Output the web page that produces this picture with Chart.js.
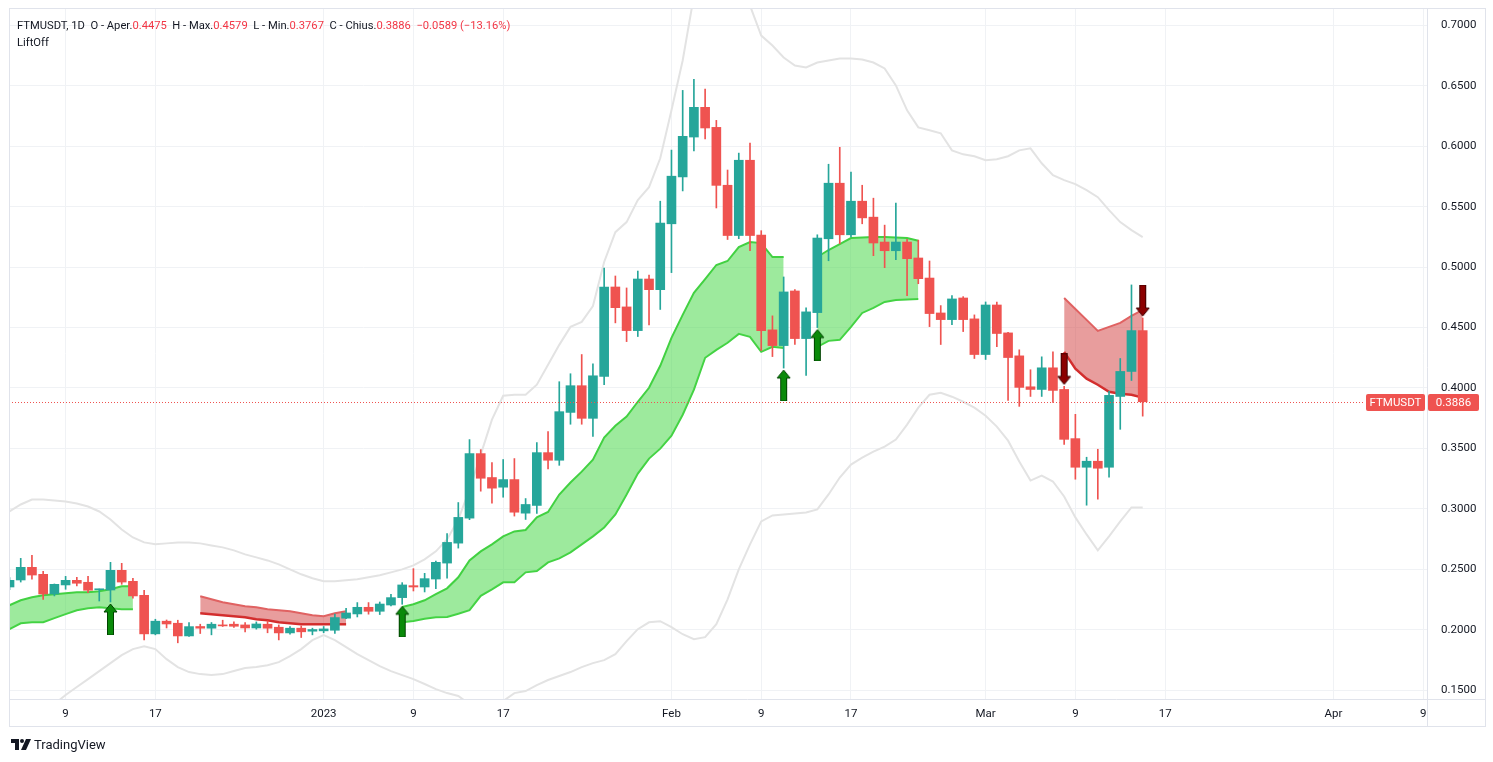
<!DOCTYPE html>
<html><head><meta charset="utf-8">
<script src="https://cdn.jsdelivr.net/npm/chart.js@4.4.0/dist/chart.umd.min.js"></script>
<style>
html,body{margin:0;padding:0;background:#fff;width:1493px;height:762px;overflow:hidden;}
#wrap{position:relative;width:1493px;height:762px;font-family:Roboto,'Liberation Sans',sans-serif;}
#c{position:absolute;left:0;top:0;}
#hdr{position:absolute;left:17px;top:17px;font-size:11.2px;color:#131722;line-height:17px;white-space:pre;}
#hdr .r{color:#f23645}
#logo{position:absolute;left:11px;top:737px;font-size:13px;color:#131722;display:flex;align-items:center;gap:3px;}
</style></head><body>
<div id="wrap">
<canvas id="c" width="1493" height="762"></canvas>
<div id="hdr"></div>
<div id="logo"><svg width="20" height="11" viewBox="0 0 20 11"><path d="M0 0h8v11H4V4H0z" fill="#131722"/><circle cx="11" cy="2" r="2" fill="#131722"/><path d="M15 0h5l-5 11h-5z" fill="#131722"/></svg><span>TradingView</span></div>
</div>
<script>
// ---- data (day 0 = 4 Dec 2022, one candle per day) ----
const symbol = 'FTMUSDT';
const tickDays = [5, 13, 28, 36, 44, 59, 67, 75, 87, 95, 103, 118, 126];
const tickLabels = ['9', '17', '2023', '9', '17', 'Feb', '9', '17', 'Mar', '9', '17', 'Apr', '9'];
const priceTicks = [0.15, 0.20, 0.25, 0.30, 0.35, 0.40, 0.45, 0.50, 0.55, 0.60, 0.65, 0.70];

const opens = [.2353,.2411,.2516,.2458,.2295,.2370,.2408,.2392,.2330,.2328,
.2491,.2400,.2284,.1965,.2070,.2053,.1948,.2026,.2012,.2039,
.2045,.2039,.2014,.2045,.2020,.1973,.2012,.1987,.1990,.1995,
.2095,.2130,.2185,.2152,.2204,.2265,.2364,.2353,.2419,.2551,
.2716,.2923,.3457,.3259,.3179,.3242,.2964,.3028,.3465,.3402,
.3798,.4019,.3749,.4096,.4836,.4671,.4475,.4902,.4814,.5359,
.5747,.6077,.6323,.6157,.5678,.5262,.5885,.5266,.4481,.4351,
.4803,.4409,.4624,.5235,.5695,.5268,.5546,.5414,.5208,.5136,
.5208,.5076,.4910,.4621,.4566,.4745,.4572,.4277,.4687,.4456,
.4266,.4010,.3988,.4167,.3988,.3581,.3344,.3394,.3344,.3930,
.4137,.4475];
const highs = [.2430,.2590,.2615,.2483,.2378,.2441,.2433,.2441,.2336,.2557,
.2549,.2425,.2326,.2086,.2080,.2078,.2059,.2045,.2059,.2078,
.2064,.2059,.2064,.2072,.2039,.2026,.2031,.2012,.2026,.2128,
.2177,.2224,.2224,.2229,.2293,.2389,.2505,.2466,.2568,.2796,
.3052,.3573,.3490,.3383,.3408,.3416,.3085,.3548,.3639,.4052,
.4118,.4277,.4200,.4993,.4927,.4828,.4968,.4935,.5546,.5969,
.6463,.6554,.6474,.6215,.5804,.5944,.6027,.5302,.4597,.4919,
.4815,.4663,.5268,.5852,.5992,.5787,.5678,.5571,.5348,.5530,
.5231,.5224,.5051,.4682,.4764,.4756,.4605,.4712,.4712,.4460,
.4316,.4151,.4258,.4299,.4013,.3782,.3427,.3493,.3972,.4244,
.4853,.4579];
const lows = [.2330,.2394,.2417,.2251,.2279,.2334,.2362,.2307,.2237,.2229,
.2375,.2260,.1915,.1957,.2014,.1891,.1943,.1968,.1957,.2026,
.2018,.1982,.2004,.1974,.1915,.1962,.1935,.1957,.1974,.1968,
.2090,.2105,.2128,.2125,.2196,.2210,.2320,.2312,.2340,.2426,
.2675,.2910,.3146,.3047,.3096,.2940,.2912,.2962,.3331,.3360,
.3700,.3700,.3600,.4027,.4539,.4384,.4426,.4522,.4650,.4955,
.5631,.5962,.6062,.5490,.5229,.5236,.5136,.4310,.4260,.4165,
.4360,.4104,.4500,.5053,.5194,.5251,.5359,.5095,.4996,.5062,
.4764,.4863,.4508,.4360,.4525,.4467,.4244,.4236,.4343,.3897,
.3848,.3930,.3930,.3881,.3534,.3245,.3030,.3080,.3261,.3658,
.4062,.3767];
const closes = [.2408,.2516,.2452,.2295,.2375,.2408,.2384,.2326,.2334,.2491,
.2394,.2279,.1965,.2070,.2047,.1948,.2025,.2012,.2045,.2031,
.2028,.2014,.2047,.2012,.1973,.2012,.1982,.2001,.2006,.2100,
.2138,.2185,.2152,.2212,.2265,.2370,.2353,.2422,.2557,.2722,
.2929,.3457,.3253,.3171,.3242,.2972,.3036,.3465,.3402,.3804,
.4019,.3749,.4101,.4836,.4665,.4475,.4902,.4814,.5365,.5753,
.6083,.6323,.6152,.5677,.5262,.5885,.5262,.4475,.4351,.4795,
.4409,.4630,.5241,.5695,.5268,.5546,.5408,.5200,.5136,.5208,
.5070,.4905,.4616,.4566,.4737,.4566,.4277,.4687,.4451,.4252,
.4005,.3988,.4167,.3980,.3575,.3344,.3394,.3336,.3939,.4137,
.4475,.3886];

// envelope bands (grey)
const bandUpper = [0.2978,0.3036,0.3077,0.3077,0.3069,0.3061,0.3044,0.3019,0.2978,0.2912,
0.2829,0.2763,0.2722,0.2706,0.2714,0.2722,0.2722,0.2714,0.2697,0.2681,
0.2656,0.2623,0.2598,0.2573,0.2540,0.2499,0.2458,0.2425,0.2400,0.2400,
0.2408,0.2417,0.2433,0.2450,0.2474,0.2499,0.2532,0.2582,0.2648,0.2747,
0.2912,0.3160,0.3449,0.3738,0.3936,0.3944,0.3944,0.4027,0.4192,0.4357,
0.4506,0.4547,0.4679,0.5043,0.5290,0.5373,0.5555,0.5662,0.5901,0.6298,
0.6711,0.7247,0.7454,0.7578,0.7537,0.7330,0.7165,0.6917,0.6834,0.6735,
0.6669,0.6653,0.6694,0.6711,0.6727,0.6727,0.6719,0.6694,0.6645,0.6504,
0.6298,0.6157,0.6133,0.6108,0.5967,0.5934,0.5918,0.5885,0.5893,0.5918,
0.5967,0.5984,0.5860,0.5761,0.5720,0.5687,0.5637,0.5579,0.5472,0.5373,
0.5307,0.5249];
const bandLower = [0.1178,0.1228,0.1278,0.1327,0.1384,0.1459,0.1525,0.1591,0.1657,0.1723,
0.1789,0.1839,0.1863,0.1839,0.1756,0.1690,0.1649,0.1632,0.1624,0.1632,
0.1657,0.1682,0.1690,0.1706,0.1731,0.1781,0.1839,0.1913,0.1954,0.1913,
0.1855,0.1797,0.1748,0.1698,0.1657,0.1624,0.1591,0.1550,0.1508,0.1475,
0.1451,0.1384,0.1327,0.1327,0.1409,0.1475,0.1492,0.1541,0.1583,0.1616,
0.1649,0.1690,0.1723,0.1748,0.1797,0.1905,0.2004,0.2061,0.2070,0.2020,
0.1962,0.1921,0.1938,0.2045,0.2251,0.2499,0.2706,0.2896,0.2945,0.2953,
0.2962,0.2970,0.2995,0.3119,0.3259,0.3366,0.3424,0.3474,0.3515,0.3573,
0.3697,0.3837,0.3944,0.3961,0.3928,0.3886,0.3837,0.3771,0.3680,0.3564,
0.3391,0.3234,0.3275,0.3226,0.3102,0.2929,0.2788,0.2656,0.2772,0.2896,
0.3011,0.3011];

// LiftOff cloud segments (start day + upper/lower edges)
const bullStartA = 0;
const bullUpperA = [0.2202,0.2243,0.2268,0.2284,0.2293,0.2301,0.2309,0.2309,0.2317,0.2334,0.2359,0.2359];
const bullLowerA = [0.2004,0.2053,0.2061,0.2061,0.2095,0.2128,0.2161,0.2177,0.2185,0.2177,0.2169,0.2169];
const bearStartA = 17;
const bearUpperA = [0.2276,0.2251,0.2227,0.2210,0.2194,0.2185,0.2169,0.2161,0.2152,0.2136,0.2119,0.2111,0.2136,0.2152];
const bearLowerA = [0.2136,0.2128,0.2119,0.2111,0.2103,0.2086,0.2078,0.2061,0.2053,0.2045,0.2045,0.2045,0.2045,0.2045];
const bullStartB = 35;
const bullUpperB = [0.2188,0.2210,0.2243,0.2293,0.2342,0.2433,0.2573,0.2648,0.2706,0.2772,
0.2813,0.2825,0.2929,0.2974,0.3118,0.3218,0.3308,0.3407,0.3589,0.3688,
0.3763,0.3886,0.4002,0.4184,0.4415,0.4605,0.4787,0.4902,0.5018,0.5051,
0.5166,0.5208,0.5199,0.5084,0.5084];
const bullLowerB = [0.2061,0.2072,0.2090,0.2103,0.2105,0.2132,0.2161,0.2280,0.2334,0.2392,
0.2392,0.2474,0.2485,0.2557,0.2590,0.2640,0.2706,0.2772,0.2846,0.2953,
0.3118,0.3292,0.3416,0.3498,0.3606,0.3779,0.3986,0.4250,0.4316,0.4374,
0.4448,0.4423,0.4299,0.4341,0.4332];
const bullStartC = 72;
const bullUpperC = [0.5084,0.5142,0.5191,0.5241,0.5245,0.5249,0.5249,0.5245,0.5241,0.5218];
const bullLowerC = [0.4341,0.4390,0.4399,0.4506,0.4621,0.4663,0.4712,0.4729,0.4733,0.4737];
const bearStartB = 94;
const bearUpperB = [0.4745,0.4654,0.4564,0.4473,0.4506,0.4539,0.4597,0.4646];
const bearLowerB = [0.4299,0.4159,0.4077,0.4027,0.3969,0.3953,0.3944,0.3920];

const buySignals = [9, 35, 69, 72];
const sellSignals = [94, 101];

// ---- rendering ----
const TEAL = '#26a69a', RED = '#ef5350';
const days = opens.map((_, i) => i);
const isUp = days.map(i => closes[i] >= opens[i]);
const pts = (arr, start) => arr.map((v, i) => ({x: start + i, y: v}));
const fmt = v => v.toFixed(4);

const last = opens.length - 1;
const chg = closes[last] - opens[last];
document.getElementById('hdr').innerHTML =
  symbol + ', 1D  O - Aper.<span class="r">' + fmt(opens[last]) + '</span>  H - Max.<span class="r">' + fmt(highs[last]) +
  '</span>  L - Min.<span class="r">' + fmt(lows[last]) + '</span>  C - Chius.<span class="r">' + fmt(closes[last]) +
  '</span>  <span class="r">' + (chg < 0 ? '\u2212' : '+') + fmt(Math.abs(chg)) + ' (' + (chg < 0 ? '\u2212' : '+') +
  (Math.abs(chg) / opens[last] * 100).toFixed(2) + '%)</span>\nLiftOff';

function arrowImg(dir, fill, stroke) {
  const w = 15, len = 31, gap = 2, h = 2 * (len + gap);
  const c = document.createElement('canvas');
  c.width = w; c.height = h;
  const g = c.getContext('2d');
  const mid = h / 2, s = dir === 'up' ? 1 : -1;
  const tip = mid + s * gap, hb = tip + s * 8, end = tip + s * len;
  g.beginPath();
  g.moveTo(7.5, tip); g.lineTo(14, hb); g.lineTo(10.5, hb); g.lineTo(10.5, end);
  g.lineTo(4.5, end); g.lineTo(4.5, hb); g.lineTo(1, hb); g.closePath();
  g.fillStyle = fill; g.fill();
  g.lineWidth = 1; g.strokeStyle = stroke; g.stroke();
  return c;
}
const upArrow = arrowImg('up', '#0a8a0a', '#004400');
const downArrow = arrowImg('down', '#8b0000', '#3d0000');

const GREEN_LINE = '#42d142', GREEN_FILL = 'rgba(76,217,76,0.55)';
const RED_FILL = 'rgba(210,60,60,0.5)';
function cloud(upper, lower, start, bull) {
  return [
    {type: 'line', data: pts(lower, start), borderColor: bull ? GREEN_LINE : '#d42a2a',
     borderWidth: bull ? 2 : 2.5, pointRadius: 0, fill: false, tension: 0, order: 6},
    {type: 'line', data: pts(upper, start), borderColor: bull ? GREEN_LINE : '#e06262',
     borderWidth: 2, pointRadius: 0, fill: '-1', backgroundColor: bull ? GREEN_FILL : RED_FILL, tension: 0, order: 5}
  ];
}

const datasets = [
  {type: 'line', data: pts(bandUpper, 0), borderColor: '#e3e3e3', borderWidth: 2, pointRadius: 0, fill: false, tension: 0, order: 8},
  {type: 'line', data: pts(bandLower, 0), borderColor: '#e3e3e3', borderWidth: 2, pointRadius: 0, fill: false, tension: 0, order: 8},
  ...cloud(bullUpperA, bullLowerA, bullStartA, true),
  ...cloud(bearUpperA, bearLowerA, bearStartA, false),
  ...cloud(bullUpperB, bullLowerB, bullStartB, true),
  ...cloud(bullUpperC, bullLowerC, bullStartC, true),
  ...cloud(bearUpperB, bearLowerB, bearStartB, false),
  {type: 'bar', data: days.map(i => ({x: i, y: [lows[i], highs[i]]})),
   backgroundColor: days.map(i => isUp[i] ? TEAL : RED), barThickness: 1, grouped: false, order: 3},
  {type: 'bar', data: days.map(i => ({x: i, y: [opens[i], closes[i]]})),
   backgroundColor: days.map(i => isUp[i] ? TEAL : RED), barThickness: 9, minBarLength: 1, grouped: false, order: 2},
  {type: 'line', data: buySignals.map(d => ({x: d, y: lows[d]})), showLine: false,
   pointStyle: upArrow, pointRadius: 6, order: 1},
  {type: 'line', data: sellSignals.map(d => ({x: d, y: highs[d]})), showLine: false,
   pointStyle: downArrow, pointRadius: 6, order: 1}
];

const framePlugin = {
  id: 'frame',
  afterDatasetsDraw(chart) {
    const ctx = chart.ctx, ys = chart.scales.y, ca = chart.chartArea;
    const lastClose = closes[last];
    const py = Math.round(ys.getPixelForValue(lastClose)) + 0.5;
    ctx.save();
    ctx.strokeStyle = RED; ctx.lineWidth = 1; ctx.setLineDash([1, 2]);
    ctx.beginPath(); ctx.moveTo(ca.left, py); ctx.lineTo(1365, py); ctx.stroke();
    ctx.setLineDash([]);
    const boxH = 17;
    ctx.fillStyle = RED;
    ctx.beginPath(); ctx.roundRect(1366, py - boxH / 2, 59, boxH, 2); ctx.fill();
    ctx.beginPath(); ctx.roundRect(1428, py - boxH / 2, 51, boxH, 2); ctx.fill();
    ctx.fillStyle = '#ffffff'; ctx.font = '11.5px Roboto, sans-serif'; ctx.textBaseline = 'middle'; ctx.textAlign = 'center';
    ctx.fillText(symbol, 1395.5, py + 0.5);
    ctx.fillText(fmt(lastClose), 1453.5, py + 0.5);
    ctx.restore();
  },
  afterDraw(chart) {
    const ctx = chart.ctx;
    ctx.save();
    ctx.strokeStyle = '#e0e3eb'; ctx.lineWidth = 1;
    ctx.strokeRect(9.5, 8.5, 1476, 718);
    ctx.beginPath();
    ctx.moveTo(9, 699.5); ctx.lineTo(1486, 699.5);
    ctx.moveTo(1427.5, 8); ctx.lineTo(1427.5, 727);
    ctx.stroke();
    ctx.restore();
  }
};

new Chart(document.getElementById('c'), {
  type: 'bar',
  data: {datasets},
  options: {
    responsive: false, animation: false, devicePixelRatio: 1, events: [],
    layout: {padding: {left: 9, top: 8, right: 0, bottom: 0}},
    plugins: {legend: {display: false}, tooltip: {enabled: false}},
    scales: {
      x: {
        type: 'linear', min: -0.045, max: 126.34, offset: false,
        grid: {color: '#f0f2f5', drawTicks: false, offset: false},
        border: {display: false},
        afterBuildTicks: s => { s.ticks = tickDays.map(v => ({value: v})); },
        afterFit: s => { s.height = 63; s.paddingLeft = 0; s.paddingRight = 0; s.paddingTop = 0; s.paddingBottom = 0; },
        ticks: {autoSkip: false, maxRotation: 0, padding: 8, color: '#131722',
          font: {family: 'Roboto', size: 11.5}, callback: (v, i) => tickLabels[i]}
      },
      y: {
        type: 'linear', position: 'right', min: 0.1426, max: 0.7145,
        grid: {color: '#f0f2f5', drawTicks: false},
        border: {display: false},
        afterBuildTicks: s => { s.ticks = priceTicks.map(v => ({value: v})); },
        afterFit: s => { s.width = 66; s.paddingTop = 0; s.paddingBottom = 0; s.paddingLeft = 0; s.paddingRight = 0; },
        ticks: {padding: 14, color: '#131722', font: {family: 'Roboto', size: 11.5},
          callback: v => Number(v).toFixed(4)}
      }
    }
  },
  plugins: [framePlugin]
});
</script>
</body></html>
